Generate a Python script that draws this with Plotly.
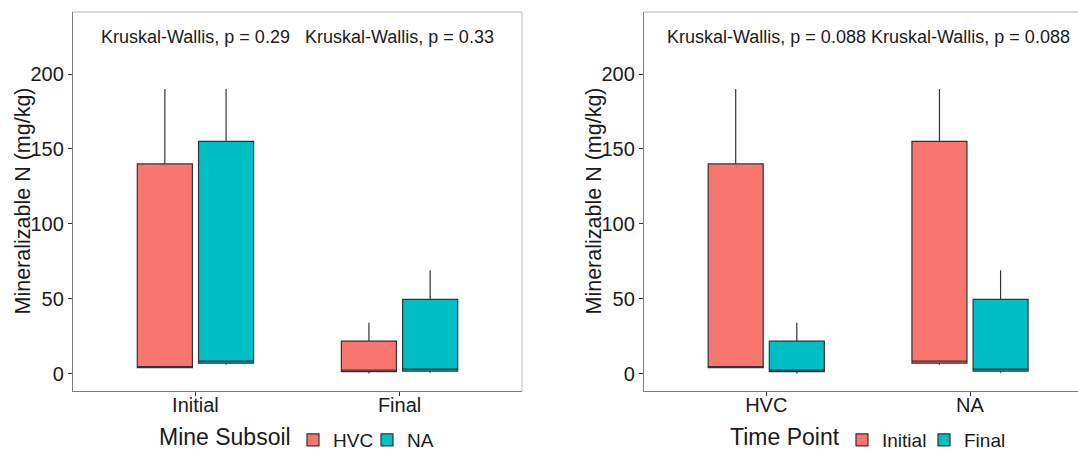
import plotly.graph_objects as go

# Categories
time_points = ["Initial", "Final"]
subsoils = ["HVC", "NA"]

# Five-number summaries of mineralizable N (mg/kg), ordered as time_points
hvc_lower = [4.0, 0.0]
hvc_q1 = [4.0, 1.3]
hvc_median = [4.4, 2.3]
hvc_q3 = [140.0, 21.7]
hvc_upper = [190.0, 34.0]

na_lower = [6.0, 0.5]
na_q1 = [7.0, 1.7]
na_median = [8.3, 3.0]
na_q3 = [155.0, 49.5]
na_upper = [190.0, 69.0]

# Kruskal-Wallis p-values: per time point (left) and per subsoil (right)
kw_p_by_time = ["0.29", "0.33"]
kw_p_by_subsoil = ["0.088", "0.088"]
label_y = 224.5

RED = "#F8766D"
TEAL = "#00BFC4"
OUTLINE = "#333333"
TEXT = "#1a1a1a"
FONT = "Liberation Sans, Arial, Helvetica, sans-serif"
W, H = 1078, 450


def px_x(p):
    return p / W


def px_y(p):
    return 1 - p / H


fig = go.Figure()

box_style = dict(line=dict(color=OUTLINE, width=1.2), whiskerwidth=0,
                 boxpoints=False, hoverinfo="skip")

# Left panel: grouped by time point, coloured by mine subsoil
fig.add_trace(go.Box(x=time_points, lowerfence=hvc_lower, q1=hvc_q1,
                     median=hvc_median, q3=hvc_q3, upperfence=hvc_upper,
                     name="HVC", fillcolor=RED, xaxis="x", yaxis="y",
                     legend="legend", alignmentgroup="left",
                     offsetgroup="HVC", **box_style))
fig.add_trace(go.Box(x=time_points, lowerfence=na_lower, q1=na_q1,
                     median=na_median, q3=na_q3, upperfence=na_upper,
                     name="NA", fillcolor=TEAL, xaxis="x", yaxis="y",
                     legend="legend", alignmentgroup="left",
                     offsetgroup="NA", **box_style))

# Right panel: grouped by mine subsoil, coloured by time point
for i, (tp, col) in enumerate(zip(time_points, [RED, TEAL])):
    fig.add_trace(go.Box(x=subsoils,
                         lowerfence=[hvc_lower[i], na_lower[i]],
                         q1=[hvc_q1[i], na_q1[i]],
                         median=[hvc_median[i], na_median[i]],
                         q3=[hvc_q3[i], na_q3[i]],
                         upperfence=[hvc_upper[i], na_upper[i]],
                         name=tp, fillcolor=col, xaxis="x2", yaxis="y2",
                         legend="legend2", alignmentgroup="right",
                         offsetgroup=tp, **box_style))

y_range = [-11.6, 241.4]
axis_common = dict(showline=True, linecolor="#7f7f7f", linewidth=1.3,
                   ticks="outside", ticklen=4, tickcolor="#333333",
                   tickwidth=1, showgrid=False, zeroline=False,
                   tickfont=dict(family=FONT, size=20, color=TEXT))

legend_common = dict(orientation="h", y=px_y(440), yanchor="middle",
                     xanchor="left", entrywidthmode="pixels",
                     font=dict(family=FONT, size=19, color=TEXT),
                     bgcolor="rgba(0,0,0,0)")

fig.update_layout(
    width=W, height=H,
    margin=dict(l=0, r=0, t=0, b=0, autoexpand=False),
    paper_bgcolor="white", plot_bgcolor="white",
    font=dict(family=FONT, color=TEXT),
    boxmode="group", boxgap=0.4, boxgroupgap=0.1,
    xaxis=dict(domain=[px_x(73), px_x(522)], type="category",
               categoryorder="array", categoryarray=time_points,
               range=[-0.6, 1.6], anchor="y", ticklabelstandoff=-8,
               **axis_common),
    yaxis=dict(domain=[px_y(391), px_y(12)], range=y_range,
               tickvals=[0, 50, 100, 150, 200], anchor="x", **axis_common),
    xaxis2=dict(domain=[px_x(644), 1.0], type="category",
                categoryorder="array", categoryarray=subsoils,
                range=[-0.6, 1.53], anchor="y2", ticklabelstandoff=-8,
                **axis_common),
    yaxis2=dict(domain=[px_y(391), px_y(12)], range=y_range,
                tickvals=[0, 50, 100, 150, 200], anchor="x2", **axis_common),
    legend=dict(x=px_x(293), entrywidth=29, **legend_common),
    legend2=dict(x=px_x(842), entrywidth=37, **legend_common),
)

# Legend titles, set just left of each legend's keys
for x_right, title in [(293, "Mine Subsoil"), (842, "Time Point")]:
    fig.add_annotation(x=px_x(x_right), y=px_y(437), xref="paper",
                       yref="paper", text=title, showarrow=False,
                       xanchor="right", yanchor="middle",
                       font=dict(family=FONT, size=23, color=TEXT))

# Light panel border on top and right
for xr, yr, right in [("x domain", "y domain", True),
                      ("x2 domain", "y2 domain", False)]:
    fig.add_shape(type="line", xref=xr, yref=yr, x0=0, x1=1, y0=1, y1=1,
                  line=dict(color="#cccccc", width=1.3))
    if right:
        fig.add_shape(type="line", xref=xr, yref=yr, x0=1, x1=1, y0=0, y1=1,
                      line=dict(color="#cccccc", width=1.3))

# Kruskal-Wallis labels
for xa, ya, cats, pvals in [("x", "y", time_points, kw_p_by_time),
                            ("x2", "y2", subsoils, kw_p_by_subsoil)]:
    for c, p in zip(cats, pvals):
        fig.add_annotation(x=c, y=label_y, xref=xa, yref=ya,
                           text=f"Kruskal-Wallis, p = {p}", showarrow=False,
                           font=dict(family=FONT, size=18, color=TEXT))

# Y-axis titles
for xc in [22, 593]:
    fig.add_annotation(x=px_x(xc), y=px_y(201.5), xref="paper", yref="paper",
                       text="Mineralizable N (mg/kg)", textangle=-90,
                       showarrow=False, xanchor="center", yanchor="middle",
                       font=dict(family=FONT, size=21.5, color=TEXT))

fig.write_html("out.html")
